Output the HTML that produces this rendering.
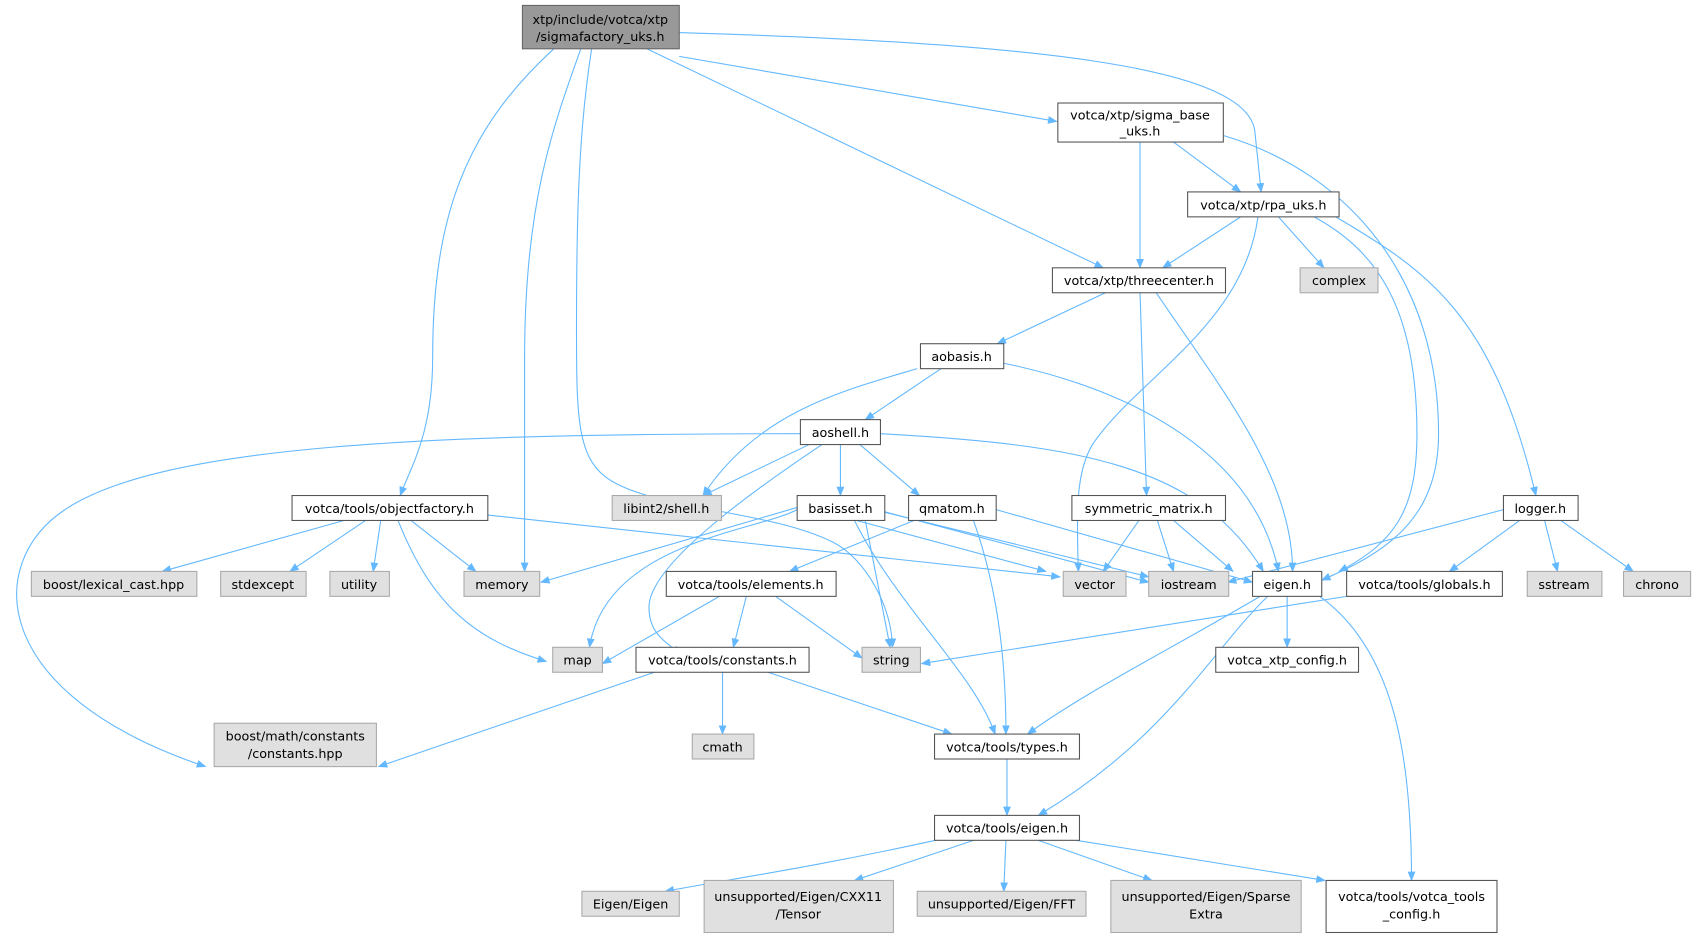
<!DOCTYPE html>
<html><head><meta charset="utf-8"><style>
html,body{margin:0;padding:0;background:#fff}
svg{display:block}
text{font-family:"DejaVu Sans","Liberation Sans",sans-serif;font-size:11.8px;fill:#000}
.w{fill:#fff;stroke:#555;stroke-width:1}
.g{fill:#e0e0e0;stroke:#aaa;stroke-width:1}
.e{fill:none;stroke:#63b8ff;stroke-width:1}
</style></head><body>
<svg width="1696" height="939" viewBox="0 0 1568 866" preserveAspectRatio="none">
<defs><marker id="a" viewBox="0 0 10 10" refX="9" refY="5" markerWidth="9" markerHeight="9" orient="auto" markerUnits="userSpaceOnUse"><path d="M0,1L10,5L0,9z" fill="#63b8ff"/></marker></defs>
<g class="e" marker-end="url(#a)">
<path d="M598,45 L1020,247"/>
<path d="M628,52 L977,112"/>
<path d="M628,30 C950,40 1150,60 1160,120 L1166,177"/>
<path d="M512,45 C430,120 400,200 400,330 C400,400 380,430 370,457"/>
<path d="M537,45 C510,120 485,190 485,330 L485,527"/>
<path d="M547,45 C535,120 533,200 533,300 C533,380 533,420 560,440 C600,470 710,470 770,500 C800,515 825,560 825,597"/>
<path d="M1054,131 L1054,247"/>
<path d="M1085,131 L1147,177"/>
<path d="M1131,125 C1250,160 1330,260 1330,400 C1330,480 1280,510 1222,535"/>
<path d="M1147,200 L1075,247"/>
<path d="M1182,200 L1224,247"/>
<path d="M1163,200 C1150,300 1050,350 1010,410 C995,435 995,470 997,527"/>
<path d="M1215,200 C1270,230 1310,280 1310,400 C1310,470 1290,500 1238,527"/>
<path d="M1235,200 C1320,250 1380,290 1420,457"/>
<path d="M1022,270 L922,317"/>
<path d="M1054,270 L1060,457"/>
<path d="M1069,270 C1130,360 1195,440 1195,527"/>
<path d="M870,340 L800,387"/>
<path d="M928,335 C1050,360 1160,420 1182,527"/>
<path d="M848,340 C780,360 700,380 650,457"/>
<path d="M748,410 L650,457"/>
<path d="M777,410 L777,457"/>
<path d="M795,410 L850,457"/>
<path d="M814,400 C1000,410 1110,430 1168,527"/>
<path d="M740,400 C400,400 150,410 60,470 C-15,520 -10,640 190,707"/>
<path d="M760,410 C700,450 600,520 600,560 C600,580 610,590 630,603"/>
<path d="M737,470 C700,490 560,500 545,597"/>
<path d="M737,468 L500,537"/>
<path d="M792,480 L967,527"/>
<path d="M800,480 L823,597"/>
<path d="M818,472 L1062,537"/>
<path d="M790,480 C830,560 900,620 920,677"/>
<path d="M808,470 L1062,532"/>
<path d="M845,480 L730,527"/>
<path d="M900,480 C925,550 930,620 930,677"/>
<path d="M921,470 L1158,537"/>
<path d="M1053,480 L1020,527"/>
<path d="M1070,480 L1085,527"/>
<path d="M1085,480 L1140,527"/>
<path d="M1390,470 L1135,537"/>
<path d="M1405,480 L1340,527"/>
<path d="M1428,480 L1440,527"/>
<path d="M1443,480 L1510,527"/>
<path d="M318,480 L150,527"/>
<path d="M338,480 L268,527"/>
<path d="M352,480 L345,527"/>
<path d="M380,480 L440,527"/>
<path d="M368,480 C400,560 440,590 505,610"/>
<path d="M451,475 L980,532"/>
<path d="M665,550 L557,612"/>
<path d="M690,550 L678,597"/>
<path d="M717,550 L797,607"/>
<path d="M1245,550 L852,612"/>
<path d="M1190,550 L1190,597"/>
<path d="M1165,550 C1080,600 1000,640 950,677"/>
<path d="M1172,550 C1120,600 1080,680 960,752"/>
<path d="M1220,550 C1290,600 1305,700 1305,812"/>
<path d="M605,620 L350,707"/>
<path d="M668,620 L668,677"/>
<path d="M710,620 L880,677"/>
<path d="M931,700 L931,752"/>
<path d="M865,775 C750,800 680,810 615,822"/>
<path d="M900,775 L790,812"/>
<path d="M930,775 L928,822"/>
<path d="M960,775 L1065,812"/>
<path d="M995,775 L1225,812"/>
</g>
<rect x="483" y="5" width="145" height="40" fill="#999" stroke="#666"/>
<text x="555" y="22" text-anchor="middle">xtp/include/votca/xtp</text><text x="555" y="38" text-anchor="middle">/sigmafactory_uks.h</text>
<g text-anchor="middle">
<rect class="w" x="978" y="95" width="153" height="36"/><text x="1054" y="110">votca/xtp/sigma_base</text><text x="1054" y="125">_uks.h</text>
<rect class="w" x="1098" y="177" width="140" height="23"/><text x="1168" y="193">votca/xtp/rpa_uks.h</text>
<rect class="w" x="973" y="247" width="160" height="23"/><text x="1053" y="263">votca/xtp/threecenter.h</text>
<rect class="g" x="1202" y="247" width="72" height="23"/><text x="1238" y="263">complex</text>
<rect class="w" x="851" y="317" width="77" height="23"/><text x="889" y="333">aobasis.h</text>
<rect class="w" x="740" y="387" width="74" height="23"/><text x="777" y="403">aoshell.h</text>
<rect class="g" x="566" y="457" width="101" height="23"/><text x="616" y="473">libint2/shell.h</text>
<rect class="w" x="270" y="457" width="181" height="23"/><text x="360" y="473">votca/tools/objectfactory.h</text>
<rect class="w" x="737" y="457" width="81" height="23"/><text x="777" y="473">basisset.h</text>
<rect class="w" x="840" y="457" width="81" height="23"/><text x="880" y="473">qmatom.h</text>
<rect class="w" x="991" y="457" width="142" height="23"/><text x="1062" y="473">symmetric_matrix.h</text>
<rect class="w" x="1390" y="457" width="69" height="23"/><text x="1424" y="473">logger.h</text>
<rect class="g" x="29" y="527" width="153" height="23"/><text x="105" y="543">boost/lexical_cast.hpp</text>
<rect class="g" x="204" y="527" width="79" height="23"/><text x="243" y="543">stdexcept</text>
<rect class="g" x="305" y="527" width="55" height="23"/><text x="332" y="543">utility</text>
<rect class="g" x="429" y="527" width="70" height="23"/><text x="464" y="543">memory</text>
<rect class="g" x="983" y="527" width="58" height="23"/><text x="1012" y="543">vector</text>
<rect class="g" x="1062" y="527" width="74" height="23"/><text x="1099" y="543">iostream</text>
<rect class="w" x="1158" y="527" width="64" height="23"/><text x="1190" y="543">eigen.h</text>
<rect class="w" x="1245" y="527" width="144" height="23"/><text x="1317" y="543">votca/tools/globals.h</text>
<rect class="g" x="1412" y="527" width="69" height="23"/><text x="1446" y="543">sstream</text>
<rect class="g" x="1501" y="527" width="62" height="23"/><text x="1532" y="543">chrono</text>
<rect class="w" x="616" y="527" width="157" height="23"/><text x="694" y="543">votca/tools/elements.h</text>
<rect class="g" x="511" y="597" width="46" height="23"/><text x="534" y="613">map</text>
<rect class="w" x="588" y="597" width="160" height="23"/><text x="668" y="613">votca/tools/constants.h</text>
<rect class="g" x="797" y="597" width="54" height="23"/><text x="824" y="613">string</text>
<rect class="w" x="1124" y="597" width="132" height="23"/><text x="1190" y="613">votca_xtp_config.h</text>
<rect class="g" x="198" y="667" width="150" height="40"/><text x="273" y="683">boost/math/constants</text><text x="273" y="699">/constants.hpp</text>
<rect class="g" x="640" y="677" width="57" height="23"/><text x="668" y="693">cmath</text>
<rect class="w" x="864" y="677" width="134" height="23"/><text x="931" y="693">votca/tools/types.h</text>
<rect class="w" x="864" y="752" width="134" height="23"/><text x="931" y="768">votca/tools/eigen.h</text>
<rect class="g" x="538" y="822" width="90" height="23"/><text x="583" y="838">Eigen/Eigen</text>
<rect class="g" x="651" y="812" width="175" height="48"/><text x="738" y="831">unsupported/Eigen/CXX11</text><text x="738" y="847">/Tensor</text>
<rect class="g" x="848" y="822" width="156" height="23"/><text x="926" y="838">unsupported/Eigen/FFT</text>
<rect class="g" x="1027" y="812" width="176" height="48"/><text x="1115" y="831">unsupported/Eigen/Sparse</text><text x="1115" y="847">Extra</text>
<rect class="w" x="1226" y="812" width="158" height="48"/><text x="1305" y="831">votca/tools/votca_tools</text><text x="1305" y="847">_config.h</text>
</g>
</svg>
</body></html>
